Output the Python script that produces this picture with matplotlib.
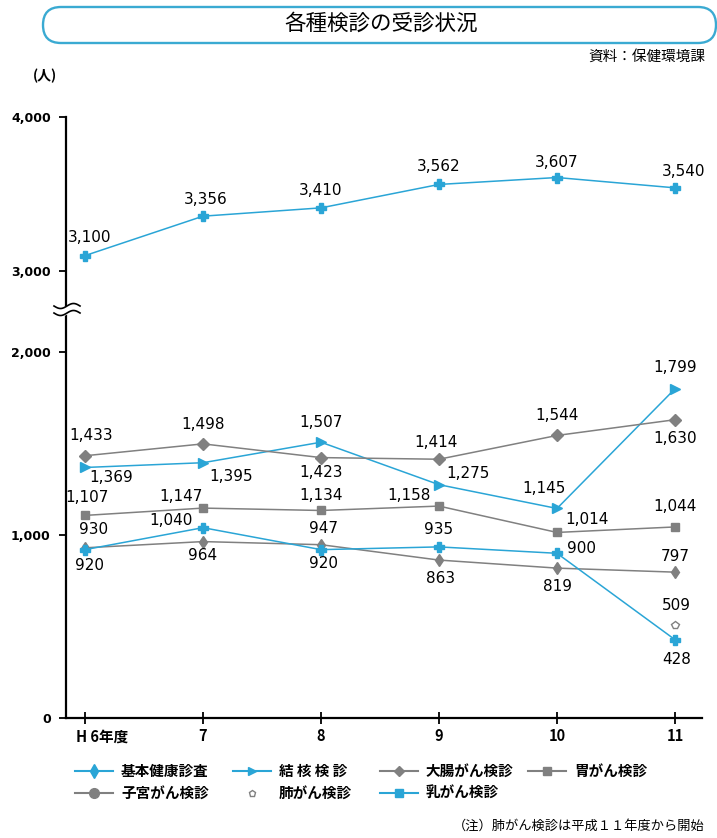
import numpy as np
import matplotlib
matplotlib.use("Agg")
import matplotlib.pyplot as plt
from matplotlib.patches import FancyBboxPatch
from matplotlib.transforms import ScaledTranslation

plt.rcParams['font.family'] = ['Noto Sans CJK JP', 'DejaVu Sans']

# ---- data -------------------------------------------------------------
years = ['H 6年度', '7', '8', '9', '10', '11']
kihon = [3100, 3356, 3410, 3562, 3607, 3540]      # 基本健康診査
kekkaku = [1369, 1395, 1507, 1275, 1145, 1799]    # 結核検診
daicho = [1433, 1498, 1423, 1414, 1544, 1630]     # 大腸がん検診
i_gan = [1107, 1147, 1134, 1158, 1014, 1044]      # 胃がん検診
shikyu = [930, 964, 947, 863, 819, 797]           # 子宮がん検診
hai_years = [5]
hai = [509]                                       # 肺がん検診 (H11 only)
nyu = [920, 1040, 920, 935, 900, 428]             # 乳がん検診

# ---- styling ----------------------------------------------------------
BLUE = '#2aa5d6'
GRAY = '#808080'
NUM_FONT = ['DejaVu Sans']
NUM_SIZE = 11

# label offsets in pixels (dx, dy) for each point
off_kihon = [(5, 18), (3, 17), (0, 17), (0, 18), (0, 15), (9, 16)]
off_kekkaku = [(26, -10), (28, -14), (0, 20), (29, 11), (-13, 20), (0, 21)]
off_daicho = [(6, 20), (0, 19), (0, -15), (-3, 17), (0, 20), (0, -19)]
off_i = [(2, 18), (-22, 12), (0, 15), (-30, 11), (30, 13), (0, 20)]
off_shikyu = [(9, 18), (0, -14), (2, 16), (2, -18), (0, -18), (0, 16)]
off_nyu = [(5, -16), (-32, 7), (2, -14), (0, 17), (24, 5), (2, -20)]
off_hai = [(1, 19)]

# broken y axis: lower part 0-2200, upper part 2750-4000
_V = np.array([-1000.0, 0.0, 2200.0, 2750.0, 5000.0])
_P = np.array([-183.0, 0.0, 402.6, 408.5, 755.0])


def fwd(v):
    return np.interp(np.asarray(v, dtype=float), _V, _P)


def inv(p):
    return np.interp(np.asarray(p, dtype=float), _P, _V)


W, H = 717, 838
fig = plt.figure(figsize=(W / 100, H / 100), dpi=100)
ax = fig.add_axes([66 / W, 1 - 718 / H, (702 - 66) / W, (718 - 117) / H])
ax.set_yscale('function', functions=(fwd, inv))
ax.set_ylim(0, 4000)
ax.set_xlim(-19 / 118, (702 - 85) / 118)

x = np.arange(len(years))

series = [
    (kihon, off_kihon, BLUE, 'P', 6.5),
    (kekkaku, off_kekkaku, BLUE, '>', 6.5),
    (daicho, off_daicho, GRAY, 'D', 6),
    (i_gan, off_i, GRAY, 's', 6),
    (shikyu, off_shikyu, GRAY, 'd', 6),
    (nyu, off_nyu, BLUE, 'P', 6.5),
]
for vals, offs, col, mk, ms in series:
    ax.plot(x, vals, color=col, lw=1.1, marker=mk, ms=ms, mfc=col,
            mec=col, clip_on=False, zorder=3)
    for xi, v, (dx, dy) in zip(x, vals, offs):
        ax.annotate(f'{v:,}', (xi, v), xytext=(dx, dy),
                    textcoords='offset pixels', ha='center', va='center',
                    fontsize=NUM_SIZE, family=NUM_FONT, color='black',
                    zorder=5)

ax.plot(hai_years, hai, linestyle='none', marker='p', ms=6, mfc='white',
        mec=GRAY, mew=1.0, clip_on=False, zorder=3)
for xi, v, (dx, dy) in zip(hai_years, hai, off_hai):
    ax.annotate(f'{v:,}', (xi, v), xytext=(dx, dy),
                textcoords='offset pixels', ha='center', va='center',
                fontsize=NUM_SIZE, family=NUM_FONT, color='black', zorder=5)

# axes cosmetics
for s in ('top', 'right'):
    ax.spines[s].set_visible(False)
for s in ('left', 'bottom'):
    ax.spines[s].set_linewidth(1.6)
ax.set_yticks([0, 1000, 2000, 3000, 4000])
ax.set_yticklabels(['0', '1,000', '2,000', '3,000', '4,000'],
                   fontsize=9, fontweight='bold', family=['DejaVu Sans'])
ax.tick_params(axis='y', direction='out', length=5, width=1.3, pad=6)
ax.set_xticks(x)
ax.set_xticklabels(years, fontsize=10.5, fontweight='bold')
ax.tick_params(axis='x', direction='inout', length=9, width=1.3, pad=3)
first = ax.get_xticklabels()[0]
first.set_transform(first.get_transform() +
                    ScaledTranslation(12 / 72, 0, fig.dpi_scale_trans))

# ---- overlay in pixel coordinates --------------------------------------
ov = fig.add_axes([0, 0, 1, 1], zorder=10)
ov.set_xlim(0, W)
ov.set_ylim(H, 0)
ov.axis('off')

# title capsule
ov.add_patch(FancyBboxPatch((43, 7), 673, 36,
                            boxstyle='round,pad=0,rounding_size=18',
                            fc='white', ec='#3aaad2', lw=1.7))
ov.text(381, 24, '各種検診の受診状況', fontsize=15.5, ha='center', va='center')
ov.text(705, 57, '資料：保健環境課', fontsize=10.5, ha='right', va='center')
ov.text(45, 76, '(人)', fontsize=10, ha='center', va='center',
        fontweight='bold')

# axis break mark
bx = np.linspace(54, 80, 40)
by = 306 + 2.5 * np.sin((bx - 54) / 26 * 2 * np.pi)
ov.fill_between(bx, by, by + 7, color='white', zorder=1)
ov.plot(bx, by, color='black', lw=1.2, zorder=2)
ov.plot(bx, by + 7, color='black', lw=1.2, zorder=2)

# legend
legend_items = [
    ('基本健康診査', BLUE, 'd', 7, True, 75, 771),
    ('結 核 検 診', BLUE, '>', 6, True, 233, 771),
    ('大腸がん検診', GRAY, 'D', 5, True, 380, 771),
    ('胃がん検診', GRAY, 's', 6, True, 528, 771),
    ('子宮がん検診', GRAY, 'o', 7, True, 75, 793),
    ('肺がん検診', GRAY, 'p', 5, False, 233, 793),
    ('乳がん検診', BLUE, 's', 6, True, 380, 793),
]
for label, col, mk, ms, has_line, lx, ly in legend_items:
    if has_line:
        ov.plot([lx, lx + 38], [ly, ly], color=col, lw=1.5)
        ov.plot([lx + 19], [ly], marker=mk, ms=ms, color=col)
    else:
        ov.plot([lx + 19], [ly], marker=mk, ms=ms, mfc='white', mec=col)
    ov.text(lx + 46, ly, label, fontsize=10.5, fontweight='bold',
            ha='left', va='center')

ov.text(705, 826, '（注）肺がん検診は平成１１年度から開始', fontsize=9.5,
        ha='right', va='center')

fig.savefig('out.png', dpi=100)
